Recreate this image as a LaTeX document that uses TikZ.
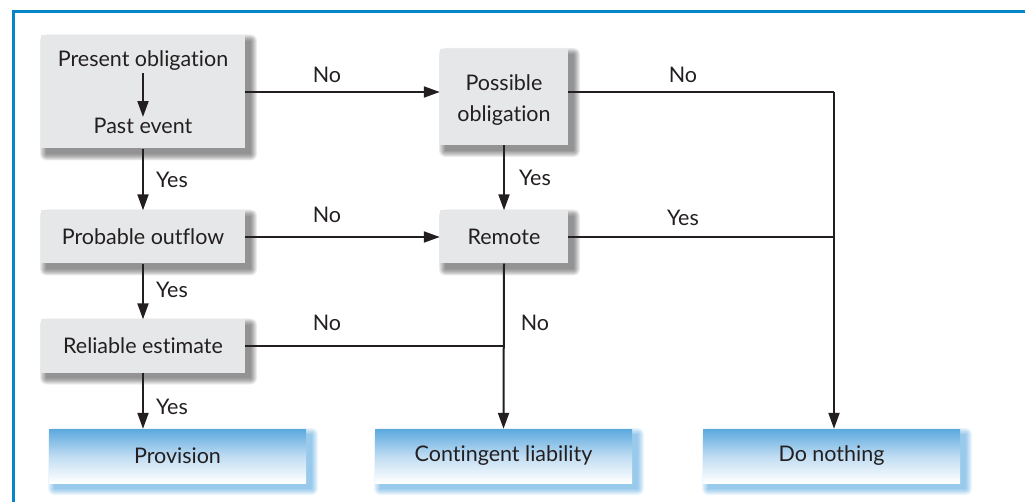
\documentclass[tikz,border=0pt]{standalone}
\usepackage{fontspec}
\setmainfont[RawFeature=-liga]{Lato}
\usetikzlibrary{arrows.meta,calc,backgrounds}

\definecolor{ink}{HTML}{231F20}
\definecolor{frameblue}{HTML}{0685C8}
\definecolor{boxgray}{HTML}{E6E7E8}
\definecolor{shgray}{HTML}{333333}
\definecolor{outtop}{HTML}{5BA8DE}
\definecolor{outmid}{HTML}{BFDCF2}
\definecolor{shblue}{HTML}{3E9BDA}

\tikzset{
  txt/.style={font=\fontsize{21.5}{25}\selectfont, text=ink},
  decision/.style={txt, fill=boxgray, inner sep=0pt, align=center},
  outcome/.style={txt, top color=outtop, bottom color=white, middle color=outmid,
                  inner sep=0pt, minimum width=257pt, minimum height=54pt},
  lbl/.style={txt, inner sep=0pt},
  flow/.style={draw=ink, line width=2pt},
  flowarrow/.style={flow, -{Triangle[length=16pt,width=11pt]}},
}

\begin{document}
\begin{tikzpicture}[x=1pt,y=-1pt]
\useasboundingbox (0,0) rectangle (1025,502);

% outer frame (top and left edges)
\draw[frameblue, line width=3pt] (1025,11.5) -- (13.5,11.5) -- (13.5,502);

% decision boxes
\node[decision, minimum width=204pt, minimum height=113pt] (po) at (143,92) {};
\node[lbl] (pres) at (143,61) {Present obligation};
\node[lbl] (past) at (143,126) {Past event};
\node[decision, minimum width=128pt, minimum height=96pt] (pos) at (504,97) {};
\node[lbl, anchor=base] (pos1) at (504,91) {Possible};
\node[lbl, anchor=base] (pos2) at (504,122) {obligation};
\node[decision, minimum width=204pt, minimum height=53pt] (prob) at (143,237) {Probable outflow};
\node[decision, minimum width=128pt, minimum height=53pt] (rem) at (504,237) {Remote};
\node[decision, minimum width=204pt, minimum height=53pt] (rel) at (143,346) {Reliable estimate};

% outcomes
\node[outcome] (prov) at (177.5,456) {Provision};
\node[outcome] (cont) at (503.5,456) {Contingent liability};
\node[outcome] (none) at (831.5,456) {Do nothing};

% soft drop shadows behind the boxes
\begin{scope}[on background layer]
\foreach \n/\c/\o in {po/shgray/0.09, pos/shgray/0.09, prob/shgray/0.09, rem/shgray/0.09, rel/shgray/0.09,
                      prov/shblue/0.09, cont/shblue/0.09, none/shblue/0.09} {
  \foreach \k in {0,...,7} {
    \fill[\c, opacity=\o, rounded corners=\k*0.9pt]
      ($(\n.south west)+(5.5-\k*0.9, 5.5+\k*0.9)$) rectangle ($(\n.north east)+(5.5+\k*0.9, 5.5-\k*0.9)$);
  }
}
\end{scope}

% junction point on the right-hand collector line
\coordinate (rt) at (834,92);

% connectors
\draw[flowarrow] (pres.south) ++(0,2) -- ($(past.north)+(0,-1)$);
\draw[flowarrow] (po.south) -- (prob.north);
\draw[flowarrow] (prob.south) -- (rel.north);
\draw[flowarrow] (rel.south) -- (rel.south |- prov.north);

\draw[flowarrow] (po.east) -- (po.east -| pos.west);
\draw[flowarrow] (prob.east) -- (rem.west);
\draw[flowarrow] (pos.south) -- (rem.north);
\draw[flowarrow] (rem.south) -- (cont.north);
\draw[flow] (rel.east) -- (rel.east -| rem.south);

\draw[flow] (po.east -| pos.east) -- (rt);
\draw[flowarrow] (rt) -- (rt |- none.north);
\draw[flow] (rem.east) -- (rem.east -| rt);

% branch labels
\node[lbl] (y1) at (172,180) {Yes};
\node[lbl] (y2) at (172,290) {Yes};
\node[lbl] (y3) at (172,407) {Yes};
\node[lbl] (n1) at (327,75) {No};
\node[lbl] (n2) at (327,215) {No};
\node[lbl] (n3) at (327,323) {No};
\node[lbl] (y4) at (535,178) {Yes};
\node[lbl] (n4) at (535,323) {No};
\node[lbl] (n5) at (683,75) {No};
\node[lbl] (y5) at (683,218) {Yes};
\end{tikzpicture}
\end{document}
